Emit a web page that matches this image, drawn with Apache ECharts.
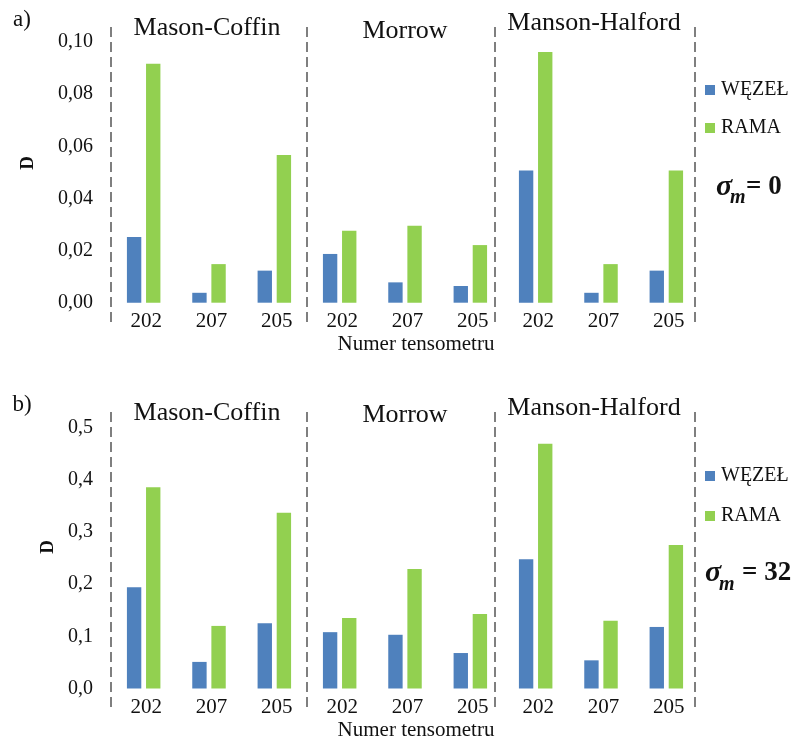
<!DOCTYPE html>
<html>
<head>
<meta charset="utf-8">
<script src="https://cdn.jsdelivr.net/npm/echarts@6/dist/echarts.min.js"></script>
<style>
  html, body { margin: 0; padding: 0; background: #fff; }
  #main { width: 792px; height: 742px; }
</style>
</head>
<body>
<div id="main"></div>
<script>
/* dane z wykresu */
var metody = ['Mason-Coffin', 'Morrow', 'Manson-Halford'];
var tensometry = ['202', '207', '205'];
var serie = ['WĘZEŁ', 'RAMA'];

// a) sigma_m = 0
var wezelA = [0.0252, 0.0038, 0.0123, 0.0187, 0.0078, 0.0064, 0.0507, 0.0038, 0.0123];
var ramaA  = [0.0917, 0.0148, 0.0567, 0.0276, 0.0295, 0.0221, 0.0962, 0.0148, 0.0507];
// b) sigma_m = 32
var wezelB = [0.194, 0.051, 0.125, 0.108, 0.103, 0.068, 0.248, 0.054, 0.118];
var ramaB  = [0.386, 0.120, 0.337, 0.135, 0.229, 0.143, 0.469, 0.130, 0.275];

var osYA = { max: 0.10, interval: 0.02, digits: 2 };
var osYB = { max: 0.5, interval: 0.1, digits: 1 };

// położenie przerywanych linii podziału (w jednostkach kategorii)
var podzialy = [0, 3, 5.87, 8.94];

var kategorie = [];
metody.forEach(function (m) {
  tensometry.forEach(function (t) { kategorie.push(m + '|' + t); });
});

var FONT = '"Times New Roman", "Liberation Serif", serif';
var niebieski = '#4f81bd', zielony = '#92d050';

var myChart = echarts.init(document.getElementById('main'));

function osX(idx) {
  return {
    type: 'category', gridIndex: idx, data: kategorie,
    axisLine: { show: false }, axisTick: { show: false },
    axisLabel: {
      margin: 8, fontFamily: FONT, fontSize: 21, color: '#111',
      padding: [0, 0, 0, 5],
      formatter: function (v) { return v.split('|')[1]; }
    },
    name: 'Numer tensometru', nameLocation: 'middle', nameGap: 31,
    nameTextStyle: { fontFamily: FONT, fontSize: 21, color: '#111', padding: [0, 0, 0, 22] }
  };
}
function osY(idx, o) {
  return {
    type: 'value', gridIndex: idx, min: 0, max: o.max, interval: o.interval,
    axisLine: { show: false }, axisTick: { show: false }, splitLine: { show: false },
    axisLabel: {
      margin: 18, fontFamily: FONT, fontSize: 20, color: '#111',
      formatter: function (v) { return v.toFixed(o.digits).replace('.', ','); }
    }
  };
}
function osPodzial(idx, typ) {
  return typ === 'x'
    ? { type: 'value', gridIndex: idx, min: 0, max: 9, show: false }
    : { type: 'value', gridIndex: idx, min: 0, max: 1, show: false };
}
function slupki(nazwa, dane, kolor, idx) {
  return {
    name: nazwa, type: 'bar', xAxisIndex: idx, yAxisIndex: idx, data: dane,
    barWidth: '22%', barGap: '33%',
    itemStyle: { color: kolor }
  };
}
function linie(idx) {
  return {
    type: 'line', xAxisIndex: idx, yAxisIndex: idx, data: [], silent: true,
    markLine: {
      silent: true, symbol: 'none', label: { show: false },
      lineStyle: { color: '#7f7f7f', width: 2, type: [10, 5] },
      data: podzialy.map(function (p) { return { xAxis: p }; })
    }
  };
}
function tekst(x, y, t, s) {
  return {
    type: 'text', x: x, y: y,
    style: Object.assign({ text: t, fontFamily: FONT, fill: '#111',
      textAlign: 'center', textVerticalAlign: 'middle' }, s || {})
  };
}

var graphic = [
  tekst(22, 20, 'a)', { fontSize: 23 }),
  tekst(22, 405, 'b)', { fontSize: 23 }),
  Object.assign(tekst(0, 0, 'D', { fontSize: 19, fontWeight: 'bold' }), { x: 28, y: 163, rotation: Math.PI / 2 }),
  Object.assign(tekst(0, 0, 'D', { fontSize: 19, fontWeight: 'bold' }), { x: 48, y: 547, rotation: Math.PI / 2 }),
  tekst(207, 28, metody[0], { fontSize: 26 }),
  tekst(405, 31, metody[1], { fontSize: 26 }),
  tekst(594, 23, metody[2], { fontSize: 26 }),
  tekst(207, 413, metody[0], { fontSize: 26 }),
  tekst(405, 415, metody[1], { fontSize: 26 }),
  tekst(594, 408, metody[2], { fontSize: 26 }),
  // sigma_m
  tekst(716, 187, 'σ', { fontSize: 30, fontWeight: 'bold', fontStyle: 'italic', textAlign: 'left' }),
  tekst(730, 198, 'm', { fontSize: 20, fontWeight: 'bold', fontStyle: 'italic', textAlign: 'left' }),
  tekst(746, 187, '= 0', { fontSize: 27, fontWeight: 'bold', textAlign: 'left' }),
  tekst(705, 573, 'σ', { fontSize: 30, fontWeight: 'bold', fontStyle: 'italic', textAlign: 'left' }),
  tekst(719, 585, 'm', { fontSize: 20, fontWeight: 'bold', fontStyle: 'italic', textAlign: 'left' }),
  tekst(742, 573, '= 32', { fontSize: 27, fontWeight: 'bold', textAlign: 'left' })
];

function legenda(top, gap) {
  return {
    orient: 'vertical', left: 700, top: top, itemGap: gap,
    icon: 'rect', itemWidth: 10, itemHeight: 10, data: serie,
    textStyle: { fontFamily: FONT, fontSize: 20, color: '#111', padding: [0, 0, 0, 1] }
  };
}

var option = {
  animation: false,
  color: [niebieski, zielony],
  grid: [
    { left: 111, right: 93, top: 42, bottom: 439.3 },
    { left: 111, right: 93, top: 427.7, bottom: 53.5 },
    { left: 111, right: 93, top: 24, bottom: 420 },
    { left: 111, right: 93, top: 409, bottom: 35 }
  ],
  xAxis: [osX(0), osX(1), osPodzial(2, 'x'), osPodzial(3, 'x')],
  yAxis: [osY(0, osYA), osY(1, osYB), osPodzial(2, 'y'), osPodzial(3, 'y')],
  legend: [legenda(75, 18), legenda(461, 20)],
  series: [
    slupki(serie[0], wezelA, niebieski, 0),
    slupki(serie[1], ramaA, zielony, 0),
    slupki(serie[0], wezelB, niebieski, 1),
    slupki(serie[1], ramaB, zielony, 1),
    linie(2),
    linie(3)
  ],
  graphic: graphic
};

myChart.setOption(option);
</script>
</body>
</html>
